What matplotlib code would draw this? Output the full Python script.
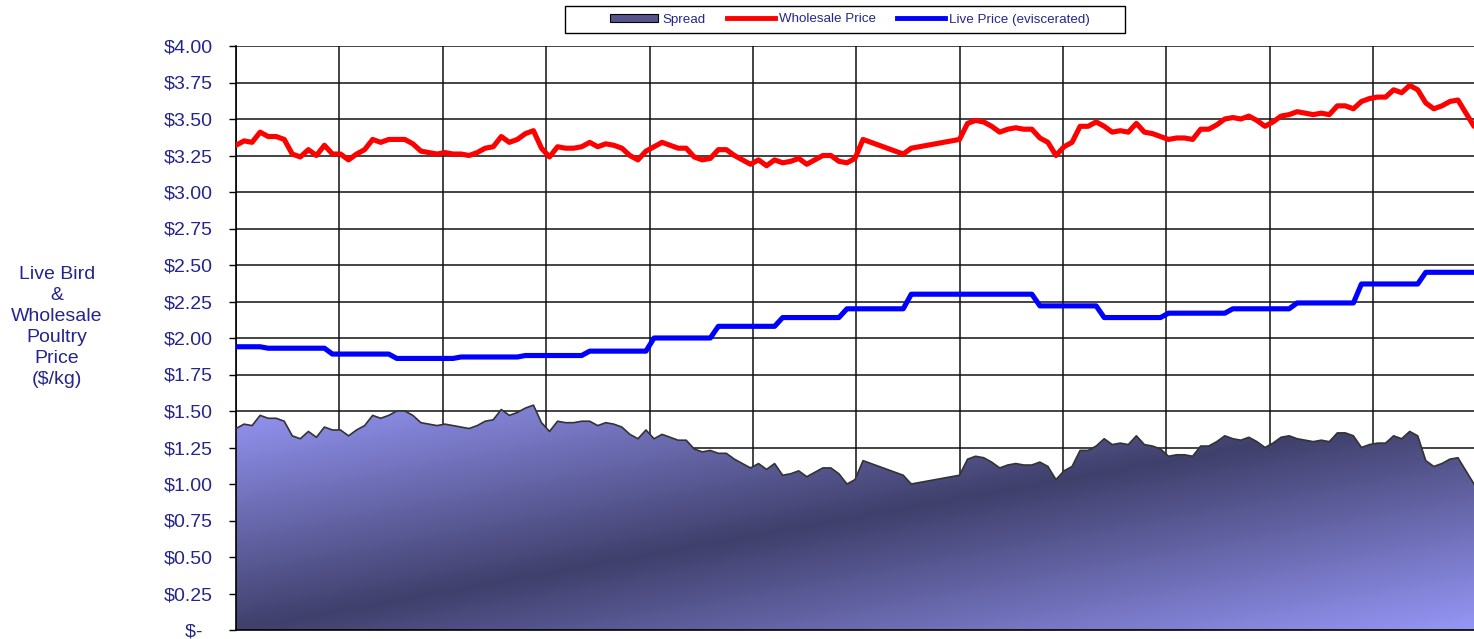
import numpy as np
import matplotlib
matplotlib.use("Agg")
import matplotlib.pyplot as plt
from matplotlib.patches import Patch, Rectangle
from matplotlib.lines import Line2D

plt.rcParams['font.family'] = ['Liberation Sans', 'DejaVu Sans']

#Weekly prices ($/kg)
wholesale = [3.32, 3.35, 3.34, 3.41, 3.38, 3.38, 3.36, 3.26, 3.24, 3.29,
             3.25, 3.32, 3.26, 3.26, 3.22, 3.26, 3.29, 3.36, 3.34, 3.36,
             3.36, 3.36, 3.33, 3.28, 3.27, 3.26, 3.27, 3.26, 3.26, 3.25,
             3.27, 3.30, 3.31, 3.38, 3.34, 3.36, 3.40, 3.42, 3.30, 3.24,
             3.31, 3.30, 3.30, 3.31, 3.34, 3.31, 3.33, 3.32, 3.30, 3.25,
             3.22, 3.28, 3.31, 3.34, 3.32, 3.30, 3.30, 3.24, 3.22, 3.23,
             3.29, 3.29, 3.25, 3.22, 3.19, 3.22, 3.18, 3.22, 3.20, 3.21,
             3.23, 3.19, 3.22, 3.25, 3.25, 3.21, 3.20, 3.23, 3.36, 3.34,
             3.32, 3.30, 3.28, 3.26, 3.30, 3.31, 3.32, 3.33, 3.34, 3.35,
             3.36, 3.47, 3.49, 3.48, 3.45, 3.41, 3.43, 3.44, 3.43, 3.43,
             3.37, 3.34, 3.25, 3.31, 3.34, 3.45, 3.45, 3.48, 3.45, 3.41,
             3.42, 3.41, 3.47, 3.41, 3.40, 3.38, 3.36, 3.37, 3.37, 3.36,
             3.43, 3.43, 3.46, 3.50, 3.51, 3.50, 3.52, 3.49, 3.45, 3.48,
             3.52, 3.53, 3.55, 3.54, 3.53, 3.54, 3.53, 3.59, 3.59, 3.57,
             3.62, 3.64, 3.65, 3.65, 3.70, 3.68, 3.73, 3.70, 3.61, 3.57,
             3.59, 3.62, 3.63, 3.54, 3.45]

live = ([1.94] * 4 + [1.93] * 8 + [1.89] * 8 + [1.86] * 8 + [1.87] * 8 +
        [1.88] * 8 + [1.91] * 8 + [2.00] * 8 + [2.08] * 8 + [2.14] * 8 +
        [2.20] * 8 + [2.30] * 16 + [2.22] * 8 + [2.14] * 8 + [2.17] * 8 +
        [2.20] * 8 + [2.24] * 8 + [2.37] * 8 + [2.45] * 7)

weeks = np.arange(len(wholesale))
spread = np.array(wholesale) - np.array(live)

y_ticks = np.arange(0, 4.01, 0.25)
y_labels = ['$-  '] + ['$%.2f' % v for v in y_ticks[1:]]

navy = '#25258C'

fig = plt.figure(figsize=(14.74, 6.39), dpi=100)
ax = fig.add_axes([236 / 1474, 9 / 639, 1238 / 1474, 584 / 639])

#Spread area with diagonal gradient
smax = spread.max()
u = np.linspace(0, 1, 400)[None, :]
v = np.linspace(0, 1, 200)[:, None]
t = (u + v) / 2
k = 1 - np.abs(2 * t - 1)
light = np.array([150, 150, 246]) / 255
dark = np.array([64, 64, 108]) / 255
grad = light + (dark - light) * k[..., None]
im = ax.imshow(grad, extent=[0, weeks[-1], 0, smax], aspect='auto',
               origin='upper', zorder=2, interpolation='bilinear')
poly = ax.fill_between(weeks, 0, spread, facecolor='none', edgecolor='none', zorder=2)
im.set_clip_path(poly.get_paths()[0], transform=ax.transData)
ax.plot(weeks, spread, color='#333333', lw=1.2, zorder=3)

#Price lines
ax.plot(weeks, wholesale, color='#FF0000', lw=3.7, zorder=4, solid_capstyle='round',
        solid_joinstyle='round')
ax.plot(weeks, live, color='#0000FF', lw=3.7, zorder=4, solid_capstyle='round')

#Axes
ax.set_xlim(0, weeks[-1])
ax.set_ylim(0, 4)
ax.set_yticks(y_ticks)
ax.set_yticklabels(y_labels, color=navy, fontsize=14)
ax.set_xticks(np.arange(12) * 12.86)
ax.set_xticklabels([])
ax.tick_params(axis='x', length=0)
ax.tick_params(axis='y', length=5, width=1, pad=11.5, direction='out')
ax.grid(True, color='#111111', lw=1.1, zorder=0)
ax.set_axisbelow(True)
for s in ['top', 'right']:
    ax.spines[s].set_visible(False)
for s in ['left', 'bottom']:
    ax.spines[s].set_color('black')
    ax.spines[s].set_linewidth(1.2)

fig.text(57 / 1474, 1 - 327 / 639, 'Live Bird\n&\nWholesale\nPoultry\nPrice\n($/kg)',
         ha='center', va='center', multialignment='center', color=navy,
         fontsize=14, linespacing=1.32)

#Legend
fig.patches.append(Rectangle((565 / 1474, 1 - 33 / 639), 560 / 1474, 27 / 639,
                             transform=fig.transFigure, facecolor='white',
                             edgecolor='black', lw=1.0))
handles = [Patch(facecolor='#55558C', edgecolor='black', lw=0.8),
           Line2D([], [], color='#FF0000', lw=3.5),
           Line2D([], [], color='#0000FF', lw=3.5)]
labels = ['Spread', 'Wholesale Price', 'Live Price (eviscerated)']
leg = fig.legend(handles, labels, loc='center', bbox_to_anchor=(850 / 1474, 1 - 19.5 / 639),
                 ncol=3, fontsize=9.6, frameon=False, handlelength=3.6,
                 handleheight=0.6, handletextpad=0.3, columnspacing=1.6,
                 borderpad=0.2, labelcolor=navy)

plt.savefig('out.png', dpi=100)
